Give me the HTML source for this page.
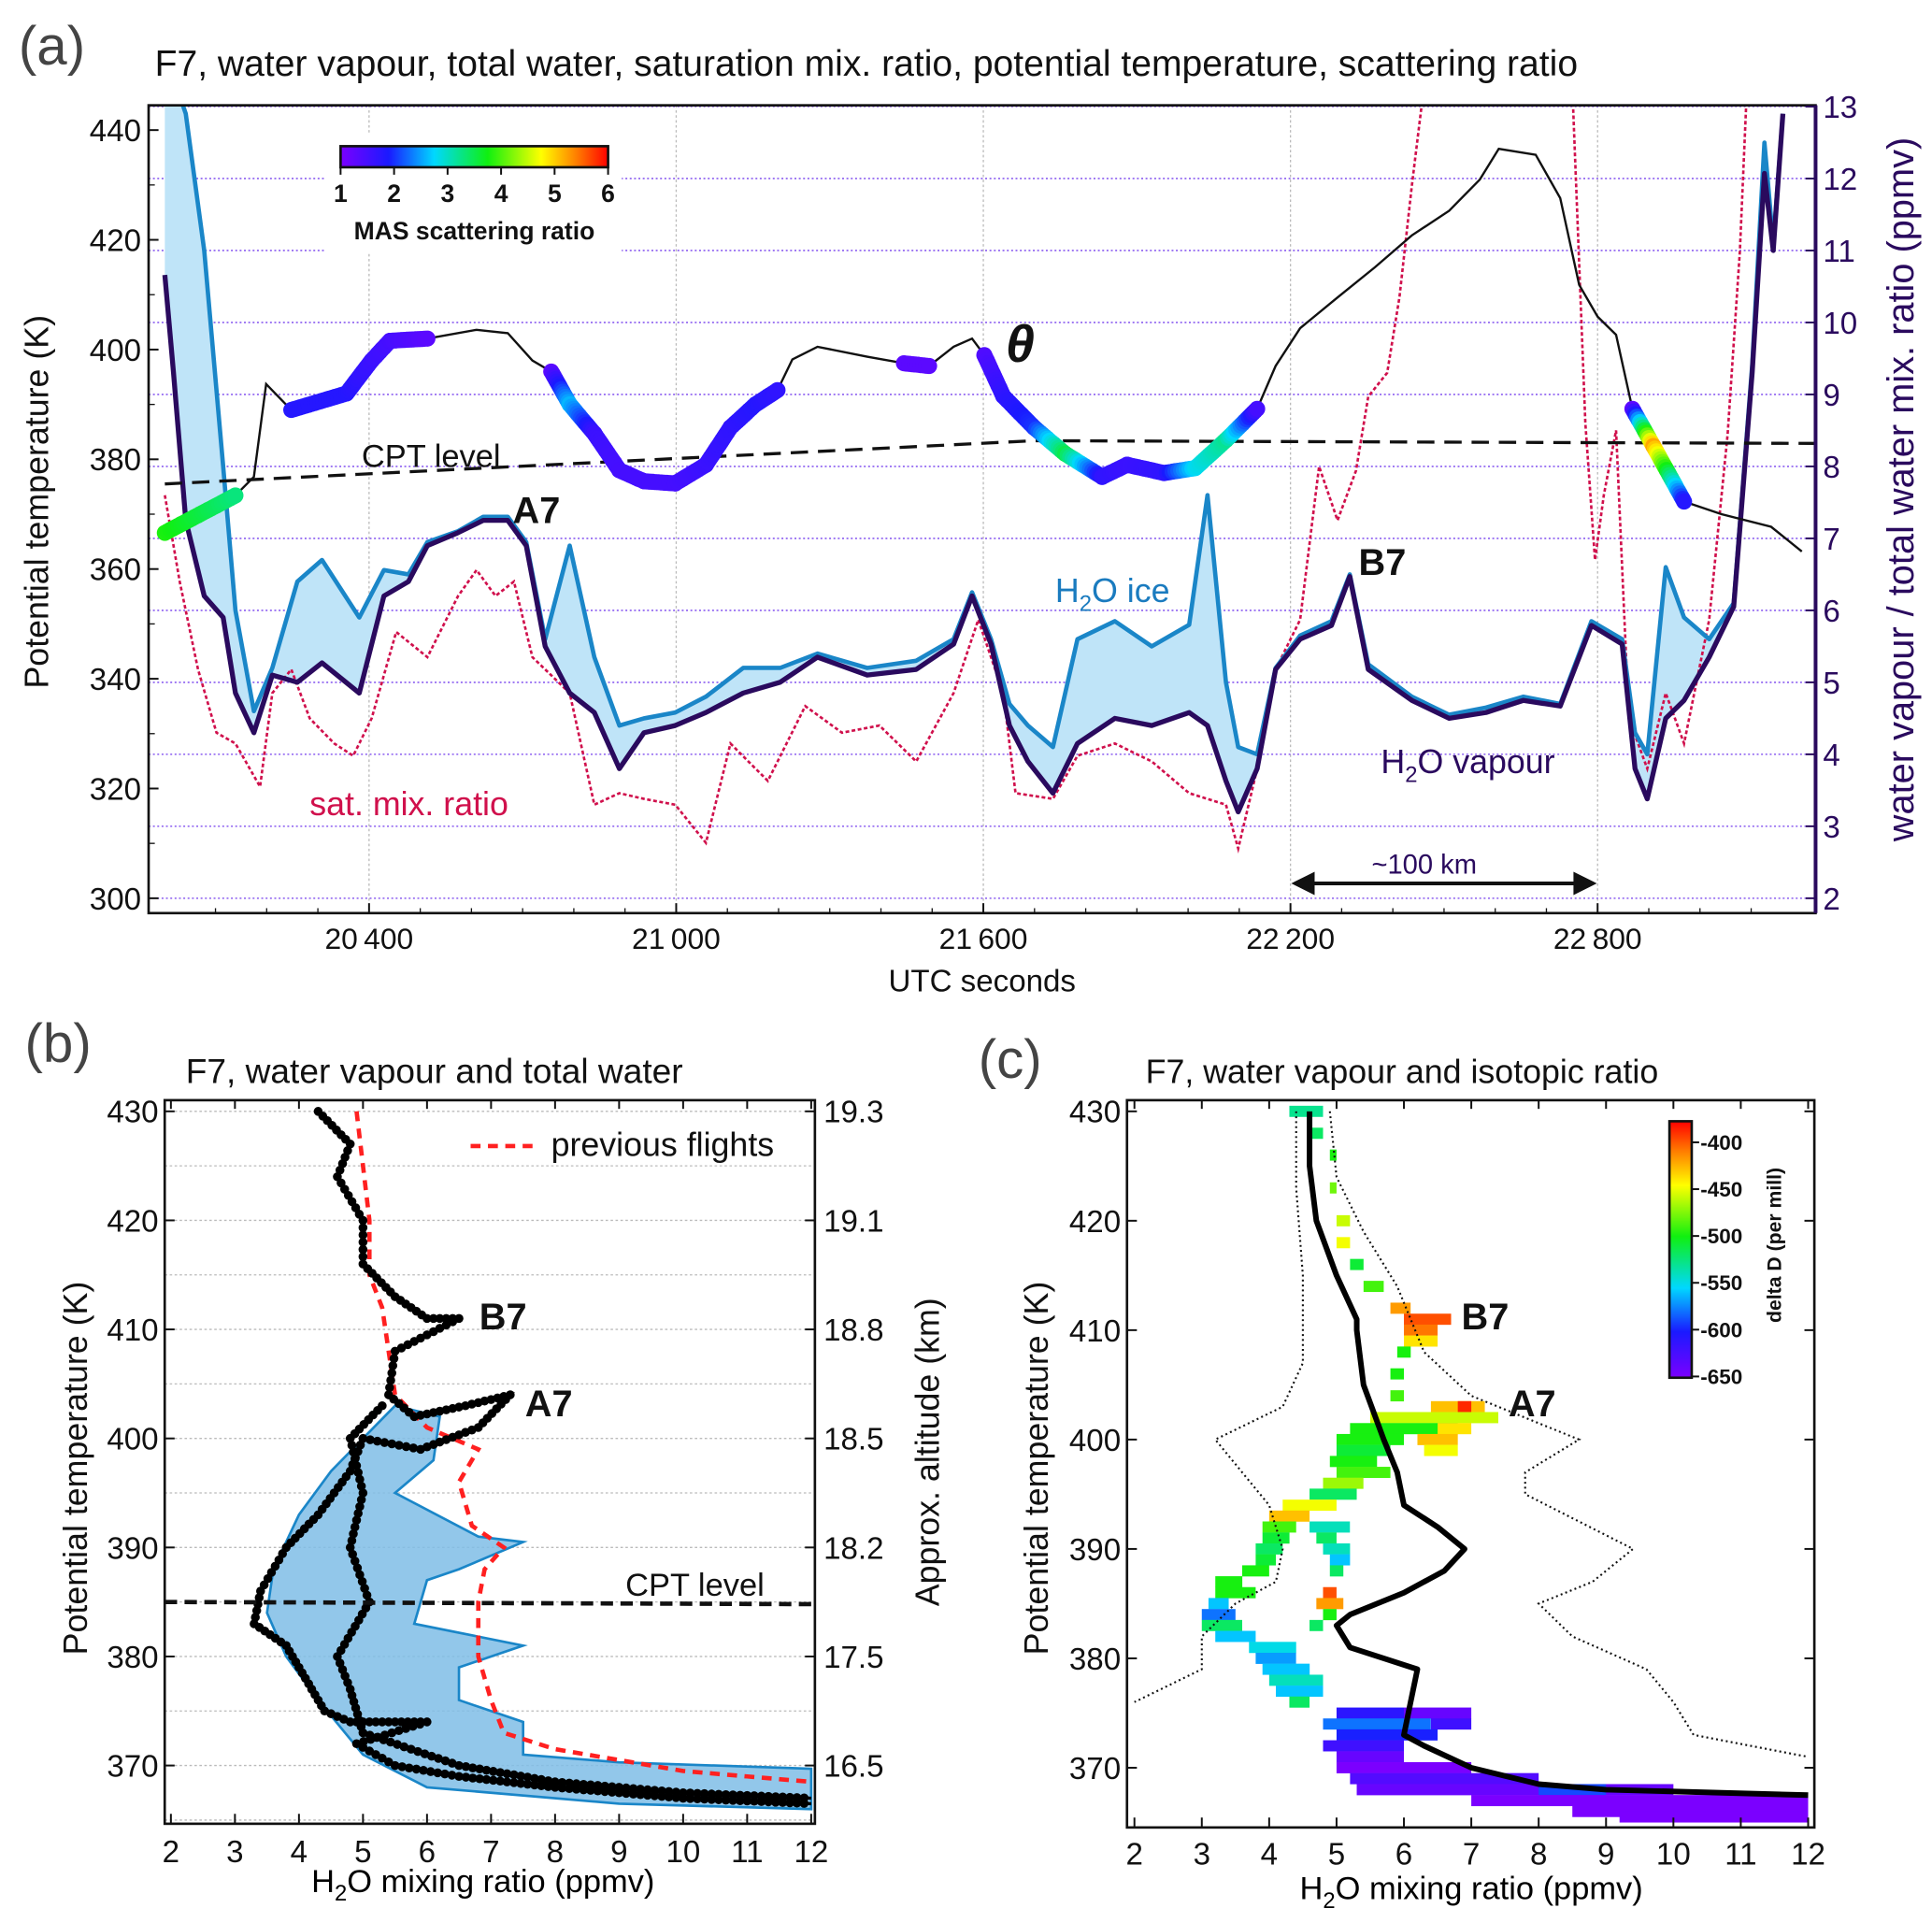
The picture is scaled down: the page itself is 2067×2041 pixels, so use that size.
<!DOCTYPE html>
<html><head><meta charset="utf-8"><style>
html,body{margin:0;padding:0;background:#fff;}
svg{display:block;font-family:"Liberation Sans",Arial,sans-serif;}
</style></head><body>
<svg id="fig" width="2067" height="2041" viewBox="0 0 1560 1540" preserveAspectRatio="none" xmlns="http://www.w3.org/2000/svg">
<defs>
<linearGradient id="jetH" x1="0" x2="1" y1="0" y2="0">
<stop offset="0" stop-color="#7b00ff"/><stop offset="0.18" stop-color="#1a1aff"/><stop offset="0.35" stop-color="#00d8ff"/><stop offset="0.55" stop-color="#10f010"/><stop offset="0.75" stop-color="#ffff00"/><stop offset="0.88" stop-color="#ff8000"/><stop offset="1" stop-color="#ff0000"/>
</linearGradient>
<linearGradient id="jetV" x1="0" x2="0" y1="1" y2="0">
<stop offset="0" stop-color="#7b00ff"/><stop offset="0.18" stop-color="#1a1aff"/><stop offset="0.35" stop-color="#00d8ff"/><stop offset="0.55" stop-color="#10f010"/><stop offset="0.75" stop-color="#ffff00"/><stop offset="0.88" stop-color="#ff8000"/><stop offset="1" stop-color="#ff0000"/>
</linearGradient>
<clipPath id="clipA"><rect x="120" y="85" width="1346" height="652"/></clipPath>
<clipPath id="clipB"><rect x="133" y="888" width="525" height="584"/></clipPath>
<clipPath id="clipC"><rect x="910" y="888" width="555" height="587"/></clipPath>
</defs>
<g id="layer"></g>
</svg>
<script>
// ---------- Panel (a) data ----------
const thetaT = [20001,20139,20175,20199,20248,20356,20405,20441,20514,20610,20671,20719,20756,20792,20840,20889,20937,20998,21058,21106,21155,21198,21227,21276,21373,21445,21494,21542,21578,21602,21639,21699,21760,21832,21881,21953,22014,22074,22135,22171,22219,22292,22365,22437,22510,22570,22607,22679,22727,22764,22800,22836,22868,22909,22969,23042,23139,23199];
const thetaK = [366.6,373.4,376.8,393.7,389,392,398,401.6,402,403.6,403,398,396,390,384.7,378,376,375.6,379,385.8,390,392.6,398.2,400.5,398.7,397.5,397,400.5,402,399,391.5,385.8,381,376.8,379,377.5,378.4,383.5,389.2,397,403.9,409.5,415,420.8,425.3,431,436.6,435.5,427.6,411.8,406,402.7,389.2,382.4,372.3,370,367.7,363.2];
const masRatio = [3.8,3.3,null,null,1.8,1.8,1.6,1.5,1.3,null,null,null,1.3,2.6,1.6,1.5,1.5,1.5,1.6,1.7,1.8,1.7,null,null,null,1.3,1.3,null,null,1.4,1.7,2.0,3.5,1.7,1.6,1.7,2.8,3.2,1.5,null,null,null,null,null,null,null,null,null,null,null,null,null,1.3,5.2,1.8,null,null,null];

const wvT = [20001,20018,20042,20078,20115,20139,20175,20211,20260,20308,20381,20429,20477,20514,20574,20623,20671,20707,20744,20792,20840,20889,20937,20998,21058,21131,21203,21276,21373,21469,21542,21578,21615,21651,21687,21736,21784,21857,21929,22002,22038,22074,22098,22135,22171,22219,22280,22316,22352,22437,22510,22582,22655,22727,22788,22848,22873,22897,22933,22969,23018,23066,23102,23126,23143,23162];
const vapour = [10.66,9.3,7.25,6.2,5.9,4.85,4.3,5.1,5.0,5.27,4.85,6.2,6.4,6.9,7.08,7.25,7.25,6.9,5.5,4.85,4.58,3.8,4.3,4.4,4.58,4.85,5.0,5.35,5.1,5.18,5.53,6.2,5.53,4.4,3.9,3.46,4.15,4.5,4.4,4.58,4.4,3.63,3.2,3.8,5.18,5.6,5.79,6.47,5.18,4.75,4.5,4.58,4.75,4.67,5.79,5.53,3.8,3.38,4.5,4.75,5.35,6.05,9.3,12.07,11.0,12.9];
const totalWater = [13.5,13.4,12.9,11.0,8.0,6.0,4.6,5.2,6.4,6.7,5.9,6.56,6.5,6.95,7.1,7.3,7.3,6.95,5.6,6.9,5.35,4.4,4.5,4.58,4.8,5.2,5.2,5.4,5.2,5.3,5.6,6.25,5.6,4.7,4.4,4.1,5.6,5.85,5.5,5.8,7.6,5.0,4.1,4.0,5.2,5.65,5.85,6.5,5.25,4.8,4.55,4.65,4.8,4.7,5.85,5.6,4.3,4.0,6.6,5.9,5.6,6.1,9.4,12.5,11.1,12.9];

const satT = [20001,20030,20066,20102,20139,20187,20211,20248,20284,20332,20369,20405,20453,20514,20574,20610,20647,20683,20719,20792,20840,20889,20937,20998,21058,21106,21179,21252,21324,21397,21469,21542,21590,21639,21663,21736,21784,21857,21929,22002,22074,22098,22135,22171,22219,22256,22292,22328,22352,22389,22413,22437,22456,22485,22727,22752,22776,22795,22812,22836,22861,22897,22933,22969,23018,23054,23078,23090,23102];
const satMix = [7.6,6.4,5.18,4.3,4.15,3.55,4.85,5.18,4.5,4.15,3.98,4.5,5.7,5.35,6.2,6.56,6.2,6.4,5.35,4.85,3.3,3.46,3.38,3.3,2.77,4.15,3.63,4.67,4.3,4.4,3.9,4.85,5.87,4.85,3.46,3.38,3.98,4.15,3.9,3.46,3.3,2.69,3.8,5.18,5.87,8.0,7.25,7.94,8.97,9.3,10.35,11.9,13.0,14,14,13,8.6,6.7,7.6,8.5,4.5,3.8,4.85,4.15,5.87,8.45,11.0,13.0,14];

const cptT = [20001,21700,23226];
const cptK = [375.5,383.4,382.9];

const xTicksA = [20400,21000,21600,22200,22800];
const yTicksL = [300,320,340,360,380,400,420,440];
const yTicksR = [2,3,4,5,6,7,8,9,10,11,12,13];
const masTicks = [1,2,3,4,5,6];

// ---------- Panel (b) data ----------
const prevMr = [4.9,5.1,5.1,5.3,5.4,5.5,6.0,6.8,6.5,6.7,7.2,6.9,6.8,6.8,7.0,7.2,8,9,10,11,12];
const prevTh = [430,420,415,412,408,404,401,399,396,392,390,388,385,380,376,373,371.5,370.5,369.5,369,368.5];
const vapAMr = [4.3,4.8,4.6,5.0,5.0,5.5,6.0,6.5,5.5,5.4,5.8,6.6,7.3,6.8,5.9,5.0,4.8,4.3,3.8,3.4,3.3,3.8,4.1,4.4,4.8,5.5,6.0,4.9,5.5,6.5,8,10,12];
const vapATh = [430,427,424,420,416,413,411,411,408,404,402,403,404,401,399,400,397,393,390,386,383,381,378,375,374,374,374,372,370,369,368,367,366.5];
const vapBMr = [5.3,4.8,5.0,4.8,5.1,4.6,4.8,5.0,6.5,8,10,12];
const vapBTh = [403,400,395,390,385,380,377,373,370,368.5,367.5,367];
const twMr = [6.2,6.1,5.5,6.8,7.5,6.5,6.0,5.8,7.5,6.5,6.5,7.5,7.5,9,12,12,9,6,5,4.3,3.8,3.5,3.6,4.0,4.5,5.0,5.5];
const twTh = [402,398,395,391,390.5,388,387,383,381,379,376,374,371,370.3,369.7,366,366.5,368,371,376,380,384,388,393,397,400,403];
const xTicksB = [2,3,4,5,6,7,8,9,10,11,12];
const yTicksB = [370,380,390,400,410,420,430];
const altLabels = ["16.5","17.5","18.2","18.5","18.8","19.1","19.3"];

// ---------- Panel (c) data ----------
const meanMr = [4.6,4.6,4.7,5.0,5.3,5.3,5.4,5.7,5.9,6.0,6.5,6.9,6.6,6.0,5.2,5.0,5.2,6.2,6.1,6.0,6.3,7.0,8.0,9.0,12];
const meanTh = [430,425,420,415,411,410,405,400,397,394,392,390,388,386,384,383,381,379,376,373,372,370,368.5,368,367.5];
const envLMr = [4.4,4.4,4.5,4.5,4.2,3.2,3.6,4.0,4.2,4.1,3.5,3.0,3.0,2.0];
const envLTh = [430,423,415,407,403,400,397,394,390,387,385,382,379,376];
const envRMr = [4.9,5.0,5.4,5.9,6.3,7.0,8.6,7.8,7.8,9.4,8.8,8.0,8.5,9.6,10,10.3,12];
const envRTh = [430,424,419,414,408,404,400,397,395,390,387,385,382,379,376,373,371];
const cellTh = [430,428,426,423,420,418,416,414,412,411,410,409,408,406,404,403,403,402,401,401,400,400,399,399,398,397,396,395,394,393,392,392,391,391,390,390,389,389,388,388,387,386,386,385,385,384,384,383,383,382,381,380,379,378,377,376,375,375,374,374,373,372,371,370,369,368,368,367,366,365.5];
const cellMr0 = [4.3,4.6,4.9,4.9,5.0,5.0,5.2,5.4,5.8,6.0,6.0,6.0,5.9,5.8,5.8,6.4,6.8,5.5,5.2,6.5,5.0,6.2,5.0,6.3,4.9,5.0,4.8,4.6,4.2,4.0,3.9,4.6,3.9,4.7,3.8,4.8,3.8,4.9,3.6,4.9,3.2,3.2,4.8,3.1,4.7,3.0,4.8,3.0,4.6,3.2,3.7,3.8,3.9,4.0,4.1,4.3,5.0,6.0,4.8,6.4,5.0,4.8,5.0,5.0,5.2,5.3,8.0,7.0,8.5,9.2];
const cellMr1 = [4.8,4.8,5.0,5.0,5.2,5.2,5.4,5.7,6.1,6.7,6.5,6.5,6.1,6.0,6.0,7.2,7.0,7.4,6.8,7.0,6.0,6.8,5.8,6.8,5.6,5.8,5.4,5.3,5.0,4.6,4.4,5.2,4.3,5.0,4.2,5.2,4.1,5.2,4.0,5.1,3.6,3.8,5.0,3.4,5.1,3.5,5.0,3.6,4.8,3.8,4.4,4.4,4.6,4.8,4.8,4.6,6.0,7.0,6.4,7.0,6.5,6.0,6.0,7.0,8.0,10.0,9.0,12.0,12.0,12.0];
const cellD = [-530,-520,-500,-480,-460,-450,-510,-490,-420,-400,-410,-440,-500,-500,-490,-430,-390,-460,-500,-440,-500,-430,-510,-450,-500,-490,-470,-520,-450,-430,-490,-540,-510,-520,-520,-540,-510,-560,-500,-520,-500,-500,-400,-560,-420,-580,-500,-520,-520,-560,-550,-570,-560,-540,-560,-520,-610,-640,-580,-620,-600,-620,-640,-650,-630,-640,-590,-650,-650,-660];
const dDTicks = [-400,-450,-500,-550,-600,-650];

// ---------- helpers ----------
const NS = "http://www.w3.org/2000/svg";
const root = document.getElementById("layer");
function el(tag, attrs, parent) {
  const e = document.createElementNS(NS, tag);
  for (const k in attrs) e.setAttribute(k, attrs[k]);
  (parent || root).appendChild(e);
  return e;
}
function txt(x, y, s, size, opts, parent) {
  const a = Object.assign({x: x, y: y, "font-size": size, fill: "#111"}, opts || {});
  const t = el("text", a, parent);
  t.textContent = s;
  return t;
}
const stops = [[0,[123,0,255]],[0.18,[26,26,255]],[0.35,[0,216,255]],[0.55,[16,240,16]],[0.75,[255,255,0]],[0.88,[255,128,0]],[1,[255,0,0]]];
function jet(f) {
  f = Math.max(0, Math.min(1, f));
  for (let i = 1; i < stops.length; i++) {
    if (f <= stops[i][0]) {
      const a = stops[i-1], b = stops[i], u = (f - a[0]) / (b[0] - a[0]);
      const c = a[1].map((v, j) => Math.round(v + (b[1][j] - v) * u));
      return "rgb(" + c.join(",") + ")";
    }
  }
  return "rgb(255,0,0)";
}
function pathFrom(xs, ys, fx, fy) {
  return xs.map((v, i) => (i ? "L" : "M") + fx(v).toFixed(1) + "," + fy(ys[i]).toFixed(1)).join("");
}

// ---------- scales ----------
const xa = t => 298 + (t - 20400) * 0.41333;
const yaL = k => 105 + (440 - k) * 4.4286;
const yaR = v => 725 - (v - 2) * 58.09;
const xb = m => 138 + (m - 2) * 51.7;
const yb = k => 897 + (430 - k) * 8.8;
const xc = m => 916 + (m - 2) * 54.4;
const yc = k => 897 + (430 - k) * 8.83;

// ================= PANEL A =================
const gA = el("g", {});


let t;
t = txt(15, 52, "(a)", 44, {fill: "#444"}, gA);


t = txt(125, 61, "F7, water vapour, total water, saturation mix. ratio, potential temperature, scattering ratio", 29.5, {}, gA);



xTicksA.forEach(v => {
  const l = el("line", {x1: xa(v), x2: xa(v), y1: 85, y2: 737, stroke: "#bbb", "stroke-width": 1, "stroke-dasharray": "2 2"}, gA);
  
  
});
yTicksR.forEach(v => {
  const l = el("line", {x1: 120, x2: 1466, y1: yaR(v), y2: yaR(v), stroke: "#8a5cf0", "stroke-width": 1.2, "stroke-dasharray": "1.5 2"}, gA);
  
  
});

const plotA = el("g", {"clip-path": "url(#clipA)"}, gA);



let fillD = pathFrom(wvT, totalWater, xa, yaR);
for (let i = wvT.length - 1; i >= 0; i--) fillD += "L" + xa(wvT[i]).toFixed(1) + "," + yaR(vapour[i]).toFixed(1);
let p = el("path", {d: fillD + "Z", fill: "#bfe4f8", stroke: "none"}, plotA);



p = el("path", {d: pathFrom(satT, satMix, xa, yaR), fill: "none", stroke: "#d0104c", "stroke-width": 2, "stroke-dasharray": "3 2"}, plotA);



p = el("path", {d: pathFrom(wvT, totalWater, xa, yaR), fill: "none", stroke: "#1a86c8", "stroke-width": 3.5, "stroke-linejoin": "round"}, plotA);



p = el("path", {d: pathFrom(wvT, vapour, xa, yaR), fill: "none", stroke: "#2a0a5e", "stroke-width": 4, "stroke-linejoin": "round"}, plotA);



p = el("path", {d: pathFrom(cptT, cptK, xa, yaL), fill: "none", stroke: "#111", "stroke-width": 2.5, "stroke-dasharray": "14 8"}, plotA);



p = el("path", {d: pathFrom(thetaT, thetaK, xa, yaL), fill: "none", stroke: "#111", "stroke-width": 1.8}, plotA);



const masG = el("g", {}, plotA);


for (let i = 0; i < thetaT.length - 1; i++) {
  if (masRatio[i] === null || masRatio[i+1] === null) continue;
  const x0 = xa(thetaT[i]), y0 = yaL(thetaK[i]), x1 = xa(thetaT[i+1]), y1 = yaL(thetaK[i+1]);
  const n = Math.max(2, Math.ceil(Math.hypot(x1 - x0, y1 - y0) / 2.5));
  for (let j = 0; j <= n; j++) {
    const u = j / n;
    const r = masRatio[i] + (masRatio[i+1] - masRatio[i]) * u;
    const c = el("circle", {cx: (x0 + (x1 - x0) * u).toFixed(1), cy: (y0 + (y1 - y0) * u).toFixed(1), r: 6.5, fill: jet((r - 1) / 5)}, masG);
    
    
  }
}

p = el("rect", {x: 120, y: 85, width: 1346, height: 652, fill: "none", stroke: "#111", "stroke-width": 2}, gA);


p = el("line", {x1: 1466, x2: 1466, y1: 85, y2: 737, stroke: "#2a0a5e", "stroke-width": 3}, gA);



xTicksA.forEach(v => {
  const l = el("line", {x1: xa(v), x2: xa(v), y1: 737, y2: 729, stroke: "#111", "stroke-width": 1.5}, gA);
  
  
  const tt = txt(xa(v), 766, String(v).replace(/(\d\d)(\d\d\d)/, "$1\u2009$2"), 24, {"text-anchor": "middle"}, gA);
  
  
});
for (let v = 20100; v <= 23100; v += 100) {
  const l = el("line", {x1: xa(v), x2: xa(v), y1: 737, y2: 733, stroke: "#111", "stroke-width": 1}, gA);
  
  
}
t = txt(793, 800, "UTC seconds", 25, {"text-anchor": "middle"}, gA);



yTicksL.forEach(v => {
  const l = el("line", {x1: 120, x2: 128, y1: yaL(v), y2: yaL(v), stroke: "#111", "stroke-width": 1.5}, gA);
  
  
  const tt = txt(114, yaL(v) + 9, String(v), 25, {"text-anchor": "end"}, gA);
  
  
});
for (let v = 310; v <= 440; v += 20) {
  const l = el("line", {x1: 120, x2: 125, y1: yaL(v), y2: yaL(v), stroke: "#111", "stroke-width": 1}, gA);
  
  
}
t = txt(0, 0, "Potential temperature (K)", 27, {"text-anchor": "middle", transform: "translate(39,405) rotate(-90)"}, gA);



yTicksR.forEach(v => {
  const l = el("line", {x1: 1466, x2: 1458, y1: yaR(v), y2: yaR(v), stroke: "#2a0a5e", "stroke-width": 1.5}, gA);
  
  
  const tt = txt(1472, yaR(v) + 9, String(v), 25, {fill: "#2a0a5e"}, gA);
  
  
});
t = txt(0, 0, "water vapour / total water mix. ratio (ppmv)", 30, {"text-anchor": "middle", fill: "#2a0a5e", transform: "translate(1545,395) rotate(-90)"}, gA);



const cb = el("g", {}, gA);


p = el("rect", {x: 262, y: 108, width: 240, height: 95, fill: "#fff"}, cb);


p = el("rect", {x: 275, y: 118, width: 216, height: 17, fill: "url(#jetH)", stroke: "#111", "stroke-width": 2}, cb);


masTicks.forEach(v => {
  const x = 275 + (v - 1) / 5 * 216;
  const l = el("line", {x1: x, x2: x, y1: 135, y2: 141, stroke: "#111", "stroke-width": 1.5}, cb);
  
  
  const tt = txt(x, 163, String(v), 20, {"text-anchor": "middle", "font-weight": "bold"}, cb);
  
  
});
t = txt(383, 193, "MAS scattering ratio", 20, {"text-anchor": "middle", "font-weight": "bold"}, cb);



t = txt(292, 377, "CPT level", 26, {}, gA);


t = txt(414, 422, "A7", 30, {"font-weight": "bold"}, gA);


t = txt(1097, 464, "B7", 30, {"font-weight": "bold"}, gA);


t = txt(812, 292, "θ", 42, {"font-weight": "bold", "font-style": "italic"}, gA);


t = el("text", {x: 852, y: 486, "font-size": 27, fill: "#1a7bbf"}, gA);
t.innerHTML = 'H<tspan font-size="18" dy="7">2</tspan><tspan dy="-7">O ice</tspan>';


t = el("text", {x: 1115, y: 624, "font-size": 27, fill: "#2a0a5e"}, gA);
t.innerHTML = 'H<tspan font-size="18" dy="7">2</tspan><tspan dy="-7">O vapour</tspan>';


t = txt(250, 658, "sat. mix. ratio", 27, {fill: "#d0104c"}, gA);


p = el("path", {d: "M1046,713L1286,713M1046,713l14,-7v14zM1286,713l-14,-7v14z", stroke: "#111", "stroke-width": 3, fill: "#111"}, gA);


t = txt(1150, 705, "~100 km", 22, {"text-anchor": "middle", fill: "#2a0a5e"}, gA);



// ================= PANEL B =================
const gB = el("g", {});


t = txt(20, 857, "(b)", 44, {fill: "#444"}, gB);


t = txt(150, 874, "F7, water vapour and total water", 28, {}, gB);


for (let k = 365; k <= 430; k += 5) {
  const l = el("line", {x1: 133, x2: 658, y1: yb(k), y2: yb(k), stroke: "#bbb", "stroke-width": 1, "stroke-dasharray": "2 2"}, gB);
  
  
}
const plotB = el("g", {"clip-path": "url(#clipB)"}, gB);


p = el("path", {d: pathFrom(twMr, twTh, xb, yb) + "Z", fill: "#7fbde6", stroke: "#1a86c8", "stroke-width": 2, "fill-opacity": 0.85}, plotB);


p = el("path", {d: pathFrom(prevMr, prevTh, xb, yb), fill: "none", stroke: "#ff2020", "stroke-width": 3.5, "stroke-dasharray": "8 6"}, plotB);


[[vapAMr, vapATh], [vapBMr, vapBTh]].forEach(s => {
  const pp = el("path", {d: pathFrom(s[0], s[1], xb, yb), fill: "none", stroke: "#000", "stroke-width": 2.5}, plotB);
  
  
  for (let i = 0; i < s[0].length - 1; i++) {
    const x0 = xb(s[0][i]), y0 = yb(s[1][i]), x1 = xb(s[0][i+1]), y1 = yb(s[1][i+1]);
    const n = Math.max(1, Math.ceil(Math.hypot(x1 - x0, y1 - y0) / 6));
    for (let j = 0; j < n; j++) {
      const u = j / n;
      const c = el("circle", {cx: (x0 + (x1 - x0) * u).toFixed(1), cy: (y0 + (y1 - y0) * u).toFixed(1), r: 3.6, fill: "#000"}, plotB);
      
      
    }
  }
});
p = el("line", {x1: 133, x2: 658, y1: yb(385), y2: yb(384.8), stroke: "#111", "stroke-width": 3.5, "stroke-dasharray": "10 6"}, gB);


t = txt(505, 1288, "CPT level", 26, {}, gB);


p = el("line", {x1: 380, x2: 432, y1: 925, y2: 925, stroke: "#ff2020", "stroke-width": 3.5, "stroke-dasharray": "8 6"}, gB);


t = txt(445, 933, "previous flights", 27, {}, gB);


t = txt(387, 1073, "B7", 30, {"font-weight": "bold"}, gB);


t = txt(424, 1143, "A7", 30, {"font-weight": "bold"}, gB);


p = el("rect", {x: 133, y: 888, width: 525, height: 584, fill: "none", stroke: "#111", "stroke-width": 2}, gB);


xTicksB.forEach(v => {
  const l = el("line", {x1: xb(v), x2: xb(v), y1: 1472, y2: 1464, stroke: "#111", "stroke-width": 1.5}, gB);
  
  
  const l2 = el("line", {x1: xb(v), x2: xb(v), y1: 888, y2: 895, stroke: "#111", "stroke-width": 1.5}, gB);
  
  
  const tt = txt(xb(v), 1503, String(v), 25, {"text-anchor": "middle"}, gB);
  
  
});
yTicksB.forEach((v, i) => {
  const l = el("line", {x1: 133, x2: 141, y1: yb(v), y2: yb(v), stroke: "#111", "stroke-width": 1.5}, gB);
  
  
  const tt = txt(128, yb(v) + 9, String(v), 25, {"text-anchor": "end"}, gB);
  
  
  const r = el("line", {x1: 658, x2: 650, y1: yb(v), y2: yb(v), stroke: "#111", "stroke-width": 1.5}, gB);
  
  
  const rt = txt(665, yb(v) + 9, altLabels[i], 25, {}, gB);
  
  
});
t = txt(0, 0, "Potential temperature (K)", 27, {"text-anchor": "middle", transform: "translate(70,1185) rotate(-90)"}, gB);


t = txt(0, 0, "Approx. altitude (km)", 27, {"text-anchor": "middle", transform: "translate(758,1172) rotate(-90)"}, gB);


t = el("text", {x: 390, y: 1527, "font-size": 26, "text-anchor": "middle"}, gB);
t.innerHTML = 'H<tspan font-size="18" dy="7">2</tspan><tspan dy="-7">O mixing ratio (ppmv)</tspan>';



// ================= PANEL C =================
const gC = el("g", {});


t = txt(790, 870, "(c)", 44, {fill: "#444"}, gC);


t = txt(925, 874, "F7, water vapour and isotopic ratio", 27, {}, gC);


const plotC = el("g", {"clip-path": "url(#clipC)"}, gC);


for (let i = 0; i < cellTh.length; i++) {
  const x0 = xc(cellMr0[i]), x1 = xc(cellMr1[i]);
  const r = el("rect", {x: x0.toFixed(1), y: (yc(cellTh[i]) - 4.5).toFixed(1), width: (x1 - x0).toFixed(1), height: 9, fill: jet((cellD[i] + 650) / 270)}, plotC);
  
  
}
p = el("path", {d: pathFrom(envLMr, envLTh, xc, yc), fill: "none", stroke: "#111", "stroke-width": 1.6, "stroke-dasharray": "1.5 2.5"}, plotC);


p = el("path", {d: pathFrom(envRMr, envRTh, xc, yc), fill: "none", stroke: "#111", "stroke-width": 1.6, "stroke-dasharray": "1.5 2.5"}, plotC);


p = el("path", {d: pathFrom(meanMr, meanTh, xc, yc), fill: "none", stroke: "#000", "stroke-width": 4.5, "stroke-linejoin": "round"}, plotC);


p = el("rect", {x: 910, y: 888, width: 555, height: 587, fill: "none", stroke: "#111", "stroke-width": 2}, gC);


xTicksB.forEach(v => {
  const l = el("line", {x1: xc(v), x2: xc(v), y1: 1475, y2: 1467, stroke: "#111", "stroke-width": 1.5}, gC);
  
  
  const l2 = el("line", {x1: xc(v), x2: xc(v), y1: 888, y2: 895, stroke: "#111", "stroke-width": 1.5}, gC);
  
  
  const tt = txt(xc(v), 1505, String(v), 25, {"text-anchor": "middle"}, gC);
  
  
});
yTicksB.forEach(v => {
  const l = el("line", {x1: 910, x2: 918, y1: yc(v), y2: yc(v), stroke: "#111", "stroke-width": 1.5}, gC);
  
  
  const r = el("line", {x1: 1465, x2: 1457, y1: yc(v), y2: yc(v), stroke: "#111", "stroke-width": 1.5}, gC);
  
  
  const tt = txt(905, yc(v) + 9, String(v), 25, {"text-anchor": "end"}, gC);
  
  
});
t = txt(0, 0, "Potential temperature (K)", 27, {"text-anchor": "middle", transform: "translate(846,1185) rotate(-90)"}, gC);


t = el("text", {x: 1188, y: 1533, "font-size": 26, "text-anchor": "middle"}, gC);
t.innerHTML = 'H<tspan font-size="18" dy="7">2</tspan><tspan dy="-7">O mixing ratio (ppmv)</tspan>';


t = txt(1180, 1073, "B7", 30, {"font-weight": "bold"}, gC);


t = txt(1218, 1143, "A7", 30, {"font-weight": "bold"}, gC);


const cbc = el("g", {}, gC);


p = el("rect", {x: 1348, y: 905, width: 18, height: 207, fill: "url(#jetV)", stroke: "#111", "stroke-width": 2}, cbc);


dDTicks.forEach(v => {
  const y = 1111 - (v + 650) / 250 * 189;
  const l = el("line", {x1: 1366, x2: 1372, y1: y, y2: y, stroke: "#111", "stroke-width": 1.5}, cbc);
  
  
  const tt = txt(1373, y + 6, String(v), 17, {"font-weight": "bold"}, cbc);
  
  
});
t = txt(0, 0, "delta D (per mill)", 16, {"text-anchor": "middle", "font-weight": "bold", transform: "translate(1438,1005) rotate(-90)"}, cbc);


</script>
</body></html>
